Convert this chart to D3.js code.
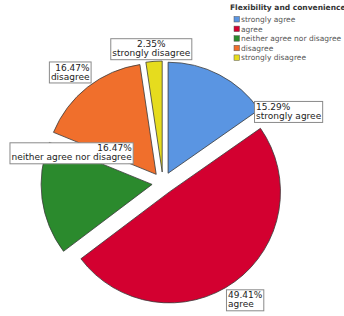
<!DOCTYPE html>
<html>
<head>
<meta charset="utf-8">
<script src="https://cdn.jsdelivr.net/npm/d3@7"></script>
<style>
  html, body { margin: 0; padding: 0; background: #fff; }
  svg { display: block; }
</style>
</head>
<body>
<div id="chart"></div>
<script>
// data
const categories = ['strongly agree', 'agree', 'neither agree nor disagree', 'disagree', 'strongly disagree'];
const percents = [15.29, 49.41, 16.47, 16.47, 2.35];
const colors = ['#5a95e2', '#d30030', '#2b8a2d', '#f06f2c', '#e6dc1e'];
const legendTitle = 'Flexibility and convenience';

// label placement (angle in degrees clockwise from 12 o'clock, radius as multiple of pie radius)
const labelAngles = [60.5, 145, 288, 320, 355];
const labelRadii = [1.3, 1.29, 0.866, 1.3, 1.21];
const labelAlign = ['start', 'start', 'end', 'end', 'middle'];

const width = 344, height = 316;
const cx = 163, cy = 183, radius = 111, explode = 11;

const svg = d3.select('#chart').append('svg')
  .attr('width', width)
  .attr('height', height);

const pie = d3.pie().sort(null).value(d => d)(percents);
const arc = d3.arc().innerRadius(0).outerRadius(radius);

const g = svg.append('g').attr('transform', `translate(${cx},${cy})`);

g.selectAll('path.slice')
  .data(pie)
  .enter()
  .append('path')
  .attr('class', 'slice')
  .attr('d', arc)
  .attr('transform', d => {
    const a = (d.startAngle + d.endAngle) / 2;
    return `translate(${Math.sin(a) * explode},${-Math.cos(a) * explode})`;
  })
  .style('fill', (d, i) => colors[i])
  .style('stroke', '#3a3a3a')
  .style('stroke-width', 0.8);

// labels
const fontSize = 9, lineH = 9, pad = 1.5;
pie.forEach((d, i) => {
  const a = labelAngles[i] * Math.PI / 180;
  const lx = Math.sin(a) * radius * labelRadii[i];
  const ly = -Math.cos(a) * radius * labelRadii[i];
  const lab = g.append('g').attr('transform', `translate(${lx},${ly})`);
  const rect = lab.append('rect');
  const lines = [percents[i].toFixed(2) + '%', categories[i]];
  const texts = lines.map((t, k) => lab.append('text')
    .text(t)
    .style('font-family', 'DejaVu Sans, Verdana, sans-serif')
    .style('font-size', fontSize + 'px')
    .style('fill', '#222'));
  const w = d3.max(texts, t => t.node().getComputedTextLength());
  const bw = w + pad * 2, bh = lineH * 2 + pad * 2;
  const x0 = -bw / 2, y0 = -bh / 2;
  rect.attr('x', x0).attr('y', y0).attr('width', bw).attr('height', bh)
    .style('fill', '#fff').style('stroke', '#8a8a8a').style('stroke-width', 1);
  texts.forEach((t, k) => {
    let tx = 0;
    if (labelAlign[i] === 'start') tx = x0 + pad;
    if (labelAlign[i] === 'end') tx = x0 + bw - pad;
    t.attr('x', tx)
      .attr('y', y0 + pad + lineH * (k + 1) - 1.8)
      .attr('text-anchor', labelAlign[i]);
  });
});

// legend
const legend = svg.append('g').attr('transform', 'translate(230,0)');
legend.append('text')
  .attr('x', 0).attr('y', 10)
  .text(legendTitle)
  .style('font-family', 'DejaVu Sans, sans-serif')
  .style('font-size', '7.5px')
  .style('font-weight', 'bold')
  .style('fill', '#333');

const items = legend.selectAll('g.item')
  .data(categories)
  .enter()
  .append('g')
  .attr('class', 'item')
  .attr('transform', (d, i) => `translate(4,${16.5 + i * 9.6})`);

items.append('rect')
  .attr('width', 5.5).attr('height', 5.5)
  .style('fill', (d, i) => colors[i])
  .style('stroke', '#555')
  .style('stroke-width', 0.5);

items.append('text')
  .attr('x', 7).attr('y', 5.5)
  .text(d => d)
  .style('font-family', 'DejaVu Sans, sans-serif')
  .style('font-size', '7.5px')
  .style('fill', '#555');
</script>
</body>
</html>
